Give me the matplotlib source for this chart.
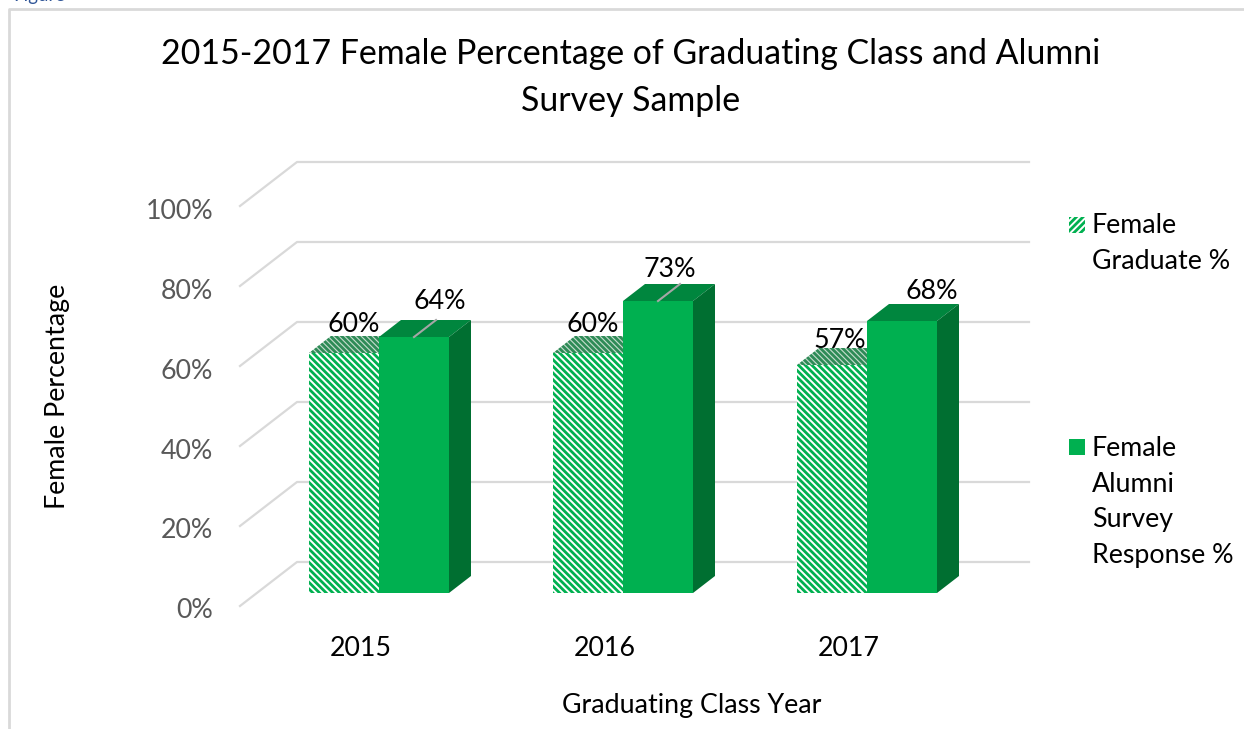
import numpy as np
import matplotlib
matplotlib.use('Agg')
import matplotlib.pyplot as plt
from matplotlib.patches import Polygon, Rectangle

years = ['2015', '2016', '2017']
graduate_pct = [60, 60, 57]
alumni_pct = [64, 73, 68]
y_ticks = [0, 20, 40, 60, 80, 100]
y_tick_labels = ['0%', '20%', '40%', '60%', '80%', '100%']

title = '2015-2017 Female Percentage of Graduating Class and Alumni\nSurvey Sample'
legend_labels = ['Female\nGraduate %', 'Female\nAlumni\nSurvey\nResponse %']

W, H = 1244, 729
GREEN = '#00B050'
GREEN_TOP = '#00863E'
GREEN_SIDE = '#006F31'
GRID = '#D9D9D9'
FS = 19.3

plt.rcParams['font.family'] = ['Lato', 'DejaVu Sans']
plt.rcParams['hatch.linewidth'] = 2.0

fig = plt.figure(figsize=(W / 100, H / 100), dpi=100, facecolor='white')
ax = fig.add_axes([0, 0, 1, 1])
ax.axis('off')

# one category is 244 px, one percent is 4 px
px_x = 244.0
px_y = 4.0
ax.set_xlim(-379 / px_x, (W - 379) / px_x)
ax.set_ylim(-(H - 593) / px_y, 593 / px_y)

bar_w = 70 / px_x
dx = 22 / px_x
dy = 17 / px_y
x = np.arange(len(years))

def fx(p):
    return p / W

def fy(p):
    return 1 - p / H

# chart border and the cut off caption above it
fig.add_artist(plt.Line2D([fx(9), fx(9), 1], [0, fy(9), fy(9)], color='#D9D9D9', lw=2))
fig.text(fx(13), fy(1), 'Figure', fontsize=13.5, color='#2F5597', va='baseline')

# wall grid
left = -139 / px_x
back = -82 / px_x
right = 650 / px_x
for v, lab in zip(y_ticks, y_tick_labels):
    ax.plot([left, back, right], [v - 3.25, v + 7.75, v + 7.75], color=GRID, lw=1.6, zorder=1)
    ax.text(left - 27 / px_x, v - 4.5, lab, ha='right', va='center', fontsize=FS, color='#595959')

# hatched series, its side is covered by the solid bar
ax.bar(x - bar_w / 2, graduate_pct, bar_w, color='white', edgecolor=GREEN, hatch='\\\\\\\\\\', lw=0, zorder=3)
for i, v in enumerate(graduate_pct):
    xl = x[i] - bar_w
    ax.add_patch(Polygon([[xl, v], [xl + dx, v + dy], [xl + bar_w + dx, v + dy], [xl + bar_w, v]],
                         facecolor='#C4DCCD', edgecolor='#2E8B57', hatch='\\\\\\\\\\\\', lw=0, zorder=3))

# solid series with top and side faces
ax.bar(x + bar_w / 2, alumni_pct, bar_w, color=GREEN, lw=0, zorder=5)
for i, v in enumerate(alumni_pct):
    xl = x[i]
    xr = x[i] + bar_w
    ax.add_patch(Polygon([[xl, v], [xl + dx, v + dy], [xr + dx, v + dy], [xr, v]], facecolor=GREEN_TOP, lw=0, zorder=4))
    ax.add_patch(Polygon([[xr, 0], [xr + dx, dy], [xr + dx, v + dy], [xr, v]], facecolor=GREEN_SIDE, lw=0, zorder=4))

# leader lines to the first two solid bar labels only
for i in range(2):
    xm = x[i] + bar_w / 2
    ax.plot([xm, xm + dx], [alumni_pct[i], alumni_pct[i] + dy], color='#A6A6A6', lw=1.5, zorder=6)

# data labels, offsets in px from the front top centre of each bar
grad_off = [(10, 29), (5, 29), (8, 25)]
alum_off = [(26, 36), (12, 32), (30, 30)]
for i in range(len(years)):
    ax.text(x[i] - bar_w / 2 + grad_off[i][0] / px_x, graduate_pct[i] + grad_off[i][1] / px_y,
            f'{graduate_pct[i]}%', ha='center', va='center', fontsize=FS, color='black', zorder=7)
    ax.text(x[i] + bar_w / 2 + alum_off[i][0] / px_x, alumni_pct[i] + alum_off[i][1] / px_y,
            f'{alumni_pct[i]}%', ha='center', va='center', fontsize=FS, color='black', zorder=7)
    ax.text(x[i] - 18 / px_x, -55 / px_y, years[i], ha='center', va='center', fontsize=FS, color='black')

fig.text(fx(631), fy(77.5), title, ha='center', va='center', fontsize=24.4, color='black', linespacing=1.56)
fig.text(fx(692), fy(705), 'Graduating Class Year', ha='center', va='center', fontsize=FS, color='black')
fig.text(fx(57), fy(396), 'Female Percentage', ha='center', va='center', rotation=90, fontsize=FS, color='black')

# legend
fig.add_artist(Rectangle((fx(1069), fy(233)), 16 / W, 16 / H, transform=fig.transFigure,
                         facecolor='white', edgecolor=GREEN, hatch='/////', lw=0))
fig.add_artist(Rectangle((fx(1069), fy(455)), 16 / W, 16 / H, transform=fig.transFigure,
                         facecolor=GREEN, lw=0))
fig.text(fx(1092), fy(213), legend_labels[0], ha='left', va='top', fontsize=FS, color='black', linespacing=1.53)
fig.text(fx(1092), fy(436), legend_labels[1], ha='left', va='top', fontsize=FS, color='black', linespacing=1.53)

fig.savefig('out.png', dpi=100)
